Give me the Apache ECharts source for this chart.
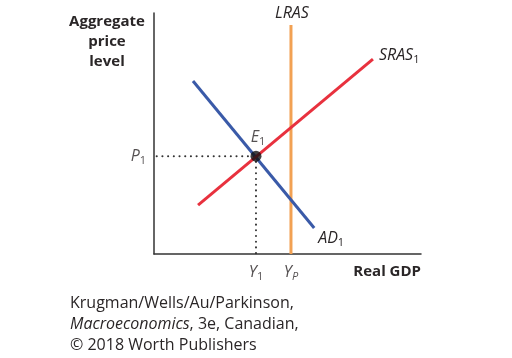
<!DOCTYPE html>
<html><head><meta charset="utf-8">
<script src="https://cdn.jsdelivr.net/npm/echarts@6/dist/echarts.min.js"></script>
<style>html,body{margin:0;padding:0;background:#fff}#c{width:512px;height:358px}</style>
</head><body><div id="c"></div>
<script>
// Curve endpoints (data units on a 0-100 schematic scale)
const adCurve = [[14.6, 71.8], [60, 10.8]];
const srasCurve = [[16.5, 20.3], [82, 80.9]];
const lrasCurve = [[51.3, 0], [51.3, 95]];
const equilibrium = [38.2, 40.6];
const curveLabels = ['AD', 'SRAS', 'LRAS'];
const axisTickLabels = ['P', 'Y', 'Y'];
const axisNames = ['Aggregate\nprice\nlevel', 'Real GDP'];
const captionLines = ['Krugman/Wells/Au/Parkinson,', 'Macroeconomics', ', 3e, Canadian,', '© 2018 Worth Publishers'];

const FONT = '"Open Sans", "Noto Sans", sans-serif';
const TXT = '#2a2627';
const rich = {
  i: {fontFamily: FONT, fontStyle: 'italic', fontSize: 16, color: TXT, lineHeight: 20},
  s: {fontFamily: FONT, fontSize: 11, color: TXT, verticalAlign: 'bottom', padding: [7, 0, 0, 0], lineHeight: 20},
  si: {fontFamily: FONT, fontSize: 11, fontStyle: 'italic', color: TXT, verticalAlign: 'bottom', padding: [7, 0, 0, 0], lineHeight: 20}
};

const chart = echarts.init(document.getElementById('c'), null, {renderer: 'canvas'});
const dotted = {color: '#333', width: 2, type: [0.1, 5.6], cap: 'round'};

chart.setOption({
  animation: false,
  grid: {left: 154, right: 91, top: 13, bottom: 104},
  xAxis: {
    type: 'value', min: 0, max: 100,
    axisLine: {lineStyle: {color: '#333', width: 1.5}},
    axisTick: {show: false}, axisLabel: {show: false}, splitLine: {show: false},
    name: axisNames[1], nameLocation: 'end', nameGap: 0,
    nameTextStyle: {fontFamily: FONT, fontWeight: 'bold', fontSize: 15, color: TXT, align: 'right', verticalAlign: 'top', padding: [10, 0, 0, 0]}
  },
  yAxis: {
    type: 'value', min: 0, max: 100,
    axisLine: {show: true, lineStyle: {color: '#333', width: 1.5}},
    axisTick: {show: false}, axisLabel: {show: false}, splitLine: {show: false}
  },
  graphic: [
    {type: 'text', x: 107, y: 12, style: {text: axisNames[0], font: 'bold 15px ' + FONT, fill: TXT, align: 'center', lineHeight: 20}},
    {type: 'text', x: 70, y: 293, style: {
      text: captionLines[0] + '\n{i|' + captionLines[1] + '}' + captionLines[2] + '\n' + captionLines[3],
      font: '16px ' + FONT, fill: TXT, lineHeight: 21,
      rich: {i: {fontStyle: 'italic', fontSize: 16, fontFamily: FONT, fill: TXT, lineHeight: 21}}
    }}
  ],
  series: [
    {type: 'line', data: [[1, equilibrium[1]], equilibrium], symbol: 'none', lineStyle: dotted, z: 1},
    {type: 'line', data: [equilibrium, [equilibrium[0], 0]], symbol: 'none', lineStyle: dotted, z: 1},
    {type: 'line', data: lrasCurve, symbol: 'none', lineStyle: {color: '#f2a153', width: 3}, z: 2,
      endLabel: {show: true, formatter: '{i|' + curveLabels[2] + '}', rich: rich, offset: [-24, -12]}},
    {type: 'line', data: adCurve, symbol: 'none', lineStyle: {color: '#3a5aa8', width: 3}, z: 3,
      endLabel: {show: true, formatter: '{i|' + curveLabels[0] + '}{s|1}', rich: rich, offset: [-4, 10]}},
    {type: 'line', data: srasCurve, symbol: 'none', lineStyle: {color: '#e8313e', width: 3}, z: 4,
      endLabel: {show: true, formatter: '{i|' + curveLabels[1] + '}{s|1}', rich: rich, offset: [-2, -4]}},
    {type: 'scatter', data: [equilibrium], symbolSize: 11, itemStyle: {color: '#111'}, z: 5,
      label: {show: true, position: 'top', distance: 3, offset: [2, 0], formatter: '{i|E}{s|1}', rich: rich}},
    {type: 'scatter', symbolSize: 0, z: 5,
      data: [
        {value: [0, equilibrium[1]], label: {position: 'left', distance: 8, formatter: '{i|' + axisTickLabels[0] + '}{s|1}'}},
        {value: [equilibrium[0], 0], label: {position: 'bottom', distance: 8, formatter: '{i|' + axisTickLabels[1] + '}{s|1}'}},
        {value: [lrasCurve[0][0], 0], label: {position: 'bottom', distance: 8, formatter: '{i|' + axisTickLabels[2] + '}{si|P}'}}
      ],
      label: {show: true, rich: rich}}
  ]
});
</script></body></html>
